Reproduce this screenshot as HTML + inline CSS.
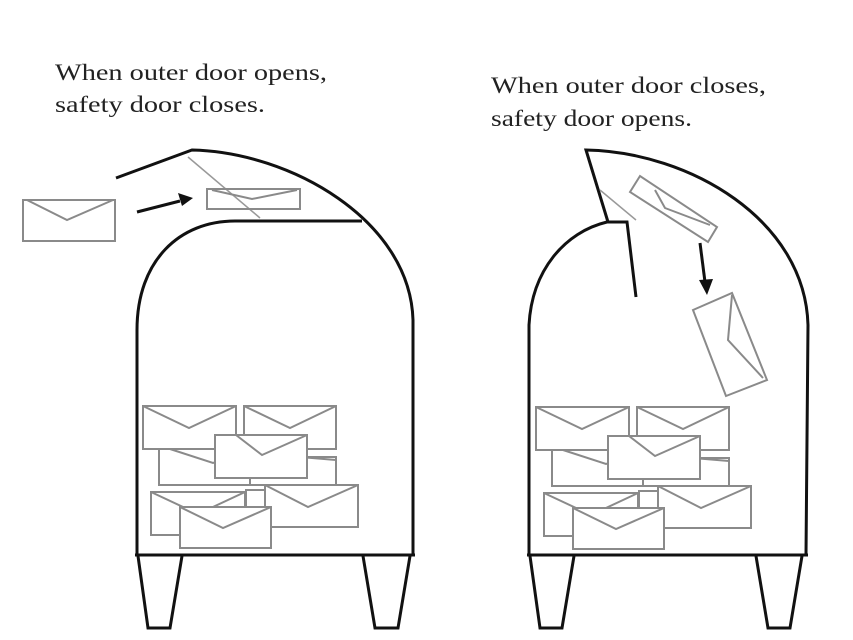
<!DOCTYPE html>
<html><head><meta charset="utf-8"><style>html,body{margin:0;padding:0;background:#fff}svg{display:block}</style></head><body>
<svg width="853" height="640" viewBox="0 0 853 640" xmlns="http://www.w3.org/2000/svg">
<defs>
<g id="pile" stroke="#8a8a8a" stroke-width="2" fill="#fff">
  <rect x="159" y="449" width="91" height="36"/><polyline points="170,449 213,463 250,452" fill="none"/>
  <rect x="250" y="457" width="86" height="28"/><polyline points="250,468 300,457 336,460" fill="none"/>
  <rect x="143" y="406" width="93" height="43"/><polyline points="143,406 189,428 236,406" fill="none"/>
  <rect x="244" y="406" width="92" height="43"/><polyline points="244,406 290,428 336,406" fill="none"/>
  <rect x="215" y="435" width="92" height="43"/><polyline points="236,435 262,455 307,435" fill="none"/>
  <rect x="246" y="490" width="35" height="20"/>
  <rect x="151" y="492" width="94" height="43"/><polyline points="151,492 198,514 245,492" fill="none"/>
  <rect x="265" y="485" width="93" height="42"/><polyline points="265,485 308,507 358,485" fill="none"/>
  <rect x="180" y="507" width="91" height="41"/><polyline points="180,507 223,528 271,507" fill="none"/>
</g>
</defs>
<g font-family="Liberation Serif, serif" font-size="23" fill="#222">
<text x="55" y="80" textLength="272" lengthAdjust="spacingAndGlyphs">When outer door opens,</text>
<text x="55" y="112" textLength="210" lengthAdjust="spacingAndGlyphs">safety door closes.</text>
<text x="491" y="93" textLength="275" lengthAdjust="spacingAndGlyphs">When outer door closes,</text>
<text x="491" y="126" textLength="201" lengthAdjust="spacingAndGlyphs">safety door opens.</text>
</g>
<!-- LEFT MAILBOX -->
<g fill="none" stroke="#111" stroke-width="3">
  <path d="M137,555 L137,330 C137,260 180,221 235,221 L362,221"/>
  <path d="M116,178 L192,150 C290,152 410,220 413,320 L413,555"/>
  <line x1="135" y1="555" x2="415" y2="555"/>
  <path d="M138,556 L148,628 L170,628 L182,556"/>
  <path d="M363,556 L375,628 L398,628 L410,556"/>
</g>
<line x1="188" y1="157" x2="260" y2="218" stroke="#999" stroke-width="1.5"/>
<g stroke="#8a8a8a" stroke-width="2" fill="none">
  <rect x="23" y="200" width="92" height="41"/><polyline points="27,200 67,220 113,200"/>
  <rect x="207" y="189" width="93" height="20"/><polyline points="212,190 252,199 297,190"/>
</g>
<line x1="137" y1="212" x2="180" y2="201" stroke="#111" stroke-width="3"/>
<polygon points="193,198 178,193 182,206" fill="#111"/>
<use href="#pile"/>
<!-- RIGHT MAILBOX -->
<g fill="none" stroke="#111" stroke-width="3">
  <path d="M529,555 L529,325 C532,270 565,232 607,222 L627,222 L636,297"/>
  <path d="M608,222 L586,150 C690,152 805,220 808,325 L806,555"/>
  <line x1="527" y1="555" x2="808" y2="555"/>
  <path d="M530,556 L540,628 L562,628 L574,556"/>
  <path d="M756,556 L768,628 L790,628 L802,556"/>
</g>
<line x1="600" y1="190" x2="636" y2="220" stroke="#999" stroke-width="1.5"/>
<g stroke="#8a8a8a" stroke-width="2" fill="none">
  <polygon points="630,192 640,176 717,227 708,242"/><polyline points="655,190 665,208 710,225"/>
  <polygon points="693,310 732,293 767,380 726,396"/><polyline points="732,295 728,340 763,378"/>
</g>
<line x1="700" y1="243" x2="705" y2="282" stroke="#111" stroke-width="3"/>
<polygon points="707,295 699,280 713,279" fill="#111"/>
<use href="#pile" transform="translate(393,1)"/>
</svg>
</body></html>
